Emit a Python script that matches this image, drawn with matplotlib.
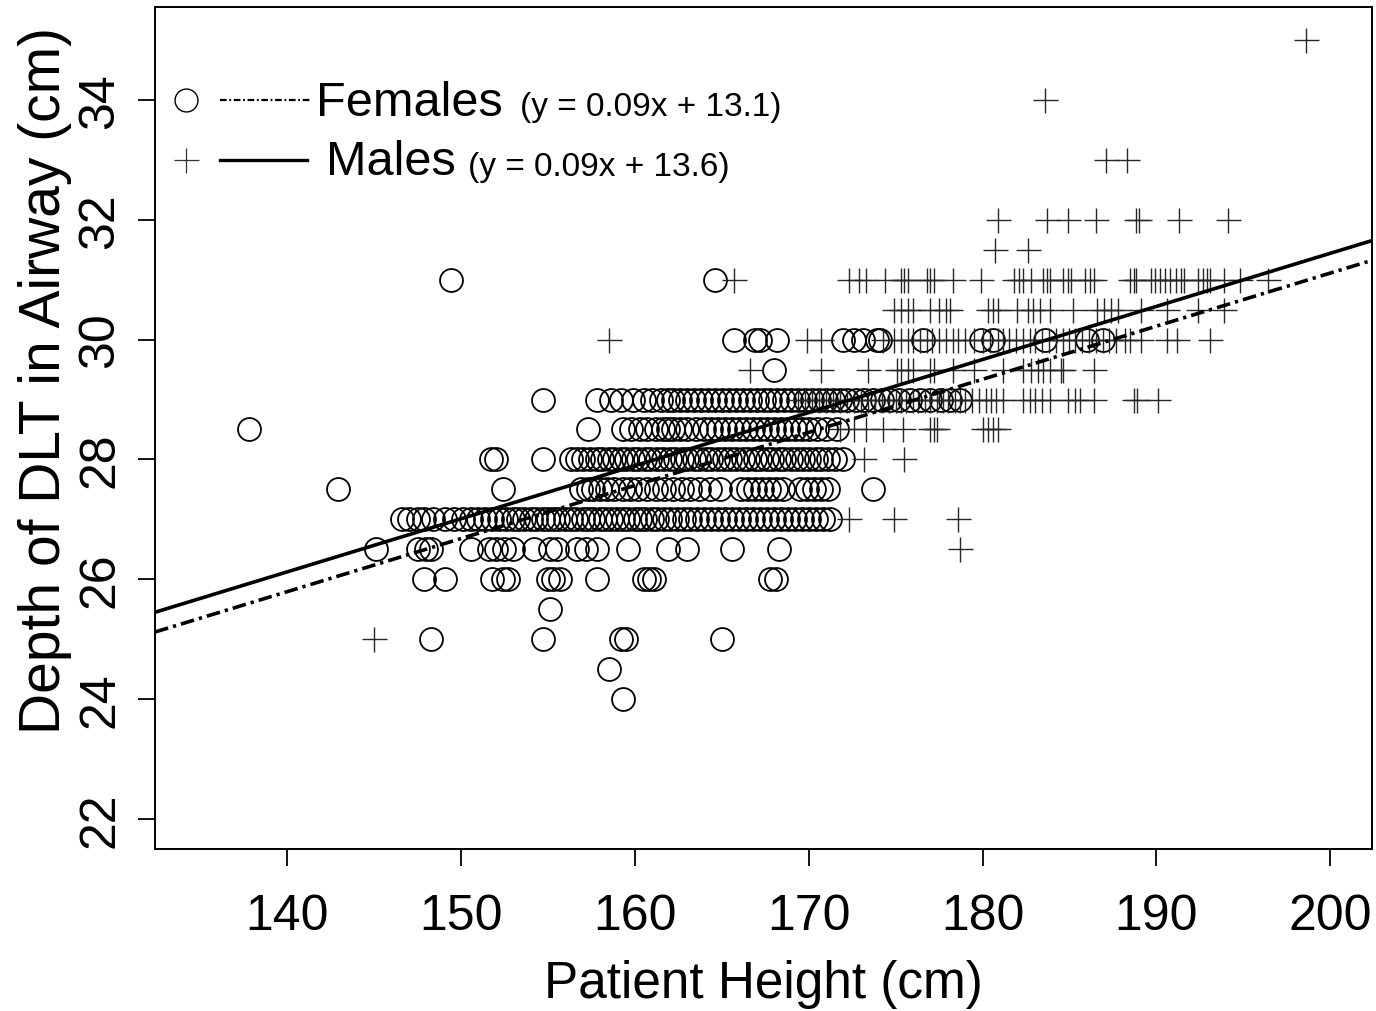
import numpy as np
import matplotlib
matplotlib.use("Agg")
import matplotlib.pyplot as plt
from matplotlib.lines import Line2D

plt.rcParams['font.family'] = ['Liberation Sans', 'DejaVu Sans']

# ---- females (circles), one list per depth level ----
f_levels = [24.0, 24.5, 25.0, 25.5, 26.0, 26.5, 27.0, 27.5, 28.0, 28.5, 29.0, 29.5, 30.0, 31.0]
f_240 = [159.3]
f_245 = [158.5]
f_250 = [148.3, 154.7, 159.2, 159.5, 165.0]
f_255 = [155.1]
f_260 = [147.9, 149.1, 151.8, 152.4, 152.7, 155.0, 155.3, 155.7, 157.8, 160.5, 160.8, 161.1, 167.8, 168.1]
f_265 = [145.1, 147.5, 148.0, 148.3, 150.6, 151.6, 152.0, 152.5, 153.0, 154.2, 155.1, 155.5, 156.7,
         157.2, 157.8, 159.6, 161.9, 163.0, 165.6, 168.3]
f_270 = [146.6, 147.0, 147.5, 147.9, 148.4, 149.1, 149.6, 150.1, 150.6, 151.0, 151.4, 151.8, 152.2,
         152.6, 153.0, 153.3, 153.6, 154.0, 154.3, 154.7, 155.0, 155.3, 155.6, 156.0, 156.3, 156.6,
         157.0, 157.3, 157.6, 158.0, 158.3, 158.6, 159.0, 159.3, 159.6, 160.0, 160.3, 160.6, 161.0,
         161.3, 161.7, 162.0, 162.4, 162.8, 163.2, 163.6, 164.0, 164.4, 164.8, 165.2, 165.6, 166.0,
         166.4, 166.8, 167.2, 167.6, 168.0, 168.4, 168.8, 169.2, 169.6, 170.0, 170.4, 170.8, 171.2]
f_275 = [142.9, 152.4, 156.9, 157.3, 157.6, 158.0, 158.4, 158.8, 159.3, 159.7, 160.2, 160.7, 161.2,
         161.7, 162.2, 162.7, 163.2, 163.7, 164.3, 164.9, 166.1, 166.5, 166.9, 167.3, 167.7, 168.1,
         168.5, 169.5, 169.9, 170.3, 170.7, 171.1, 173.7]
f_280 = [151.7, 152.0, 154.7, 156.3, 156.7, 157.0, 157.4, 157.8, 158.1, 158.5, 158.8, 159.2, 159.5,
         159.9, 160.2, 160.6, 160.9, 161.3, 161.6, 162.0, 162.3, 162.7, 163.0, 163.4, 163.7, 164.1,
         164.4, 164.8, 165.1, 165.5, 165.8, 166.2, 166.5, 166.9, 167.2, 167.6, 167.9, 168.3, 168.6,
         169.0, 169.3, 169.7, 170.0, 170.4, 170.7, 171.1, 171.5, 172.0]
f_285 = [137.8, 157.3, 159.3, 159.8, 160.3, 160.7, 161.2, 161.6, 161.9, 162.2, 162.6, 163.0, 163.5,
         164.0, 164.4, 164.8, 165.2, 165.6, 166.0, 166.4, 166.8, 167.2, 167.6, 168.0, 168.4, 168.8,
         169.2, 169.6, 170.0, 170.5, 171.0, 171.6]
f_290 = [154.7, 157.8, 158.6, 159.2, 159.9, 160.5, 161.0, 161.5, 161.9, 162.2, 162.6, 163.0, 163.4,
         163.8, 164.2, 164.6, 165.0, 165.4, 165.8, 166.2, 166.6, 167.0, 167.4, 167.8, 168.2, 168.6,
         169.0, 169.4, 169.8, 170.2, 170.6, 171.0, 171.4, 171.8, 172.2, 172.7, 173.2, 173.7, 174.2,
         174.7, 175.2, 175.8, 176.4, 177.0, 177.6, 178.1, 178.7]
f_295 = [168.0]
f_300 = [165.7, 166.9, 167.2, 168.2, 172.0, 172.6, 173.1, 173.9, 174.1, 176.6, 179.9, 180.6,
         183.6, 186.0, 186.9]
f_310 = [149.4, 164.6]
f_rows = [f_240, f_245, f_250, f_255, f_260, f_265, f_270, f_275, f_280, f_285, f_290, f_295, f_300, f_310]

# ---- males (crosses) ----
m_levels = [25.0, 26.5, 27.0, 28.0, 28.5, 29.0, 29.5, 30.0, 30.5, 31.0, 31.5, 32.0, 33.0, 34.0, 35.0]
m_250 = [145.0]
m_265 = [178.7]
m_270 = [172.3, 174.9, 178.6]
m_280 = [173.2, 175.5]
m_285 = [171.8, 172.6, 173.3, 174.3, 175.4, 177.0, 177.2, 177.4, 180.0, 180.3, 180.6, 180.9]
m_290 = [169.4, 169.8, 170.2, 170.6, 171.0, 171.4, 171.8, 172.2, 172.6, 173.0, 173.4, 173.8, 174.2,
         174.6, 175.0, 175.3, 175.6, 176.0, 176.3, 176.7, 177.0, 177.4, 177.7, 178.0, 178.4, 178.7,
         179.0, 179.4, 179.8, 180.2, 180.5, 180.8, 181.2, 182.3, 182.7, 183.0, 183.4, 183.9, 184.9,
         185.3, 185.6, 186.4, 188.7, 188.9, 190.1]
m_295 = [166.6, 170.7, 173.4, 175.1, 175.3, 175.7, 176.0, 177.0, 177.2, 178.3, 179.5, 181.2, 182.3,
         182.8, 183.2, 183.5, 183.9, 184.5, 184.6, 186.4]
m_300 = [158.5, 169.9, 170.7, 174.3, 174.9, 175.3, 175.7, 176.0, 176.4, 176.8, 177.1, 177.5, 177.9,
         178.3, 178.6, 179.0, 179.5, 180.0, 180.4, 180.9, 181.2, 181.5, 181.9, 182.3, 182.7, 183.0,
         183.4, 183.8, 184.2, 184.6, 185.0, 185.3, 185.7, 186.1, 186.5, 186.9, 187.3, 187.7, 188.2,
         188.5, 189.1, 190.6, 191.2, 193.1]
m_305 = [174.9, 175.3, 175.7, 176.0, 177.0, 177.5, 177.9, 178.1, 180.3, 180.6, 180.9, 182.0, 182.6,
         182.9, 183.3, 183.9, 185.2, 186.6, 187.0, 187.4, 187.8, 189.1, 190.6, 192.4, 193.9]
m_310 = [165.7, 172.3, 172.9, 173.3, 174.4, 175.3, 175.5, 175.7, 176.8, 177.0, 177.2, 178.3, 179.9,
         181.8, 182.1, 182.3, 182.8, 183.5, 183.7, 183.9, 184.6, 184.9, 185.1, 185.9, 186.2, 186.4,
         188.5, 188.7, 188.8, 189.7, 189.9, 190.2, 190.5, 190.8, 191.1, 191.4, 191.6, 192.4, 192.7,
         192.9, 193.1, 193.9, 194.8, 196.4]
m_315 = [180.7, 182.6]
m_320 = [180.9, 183.7, 184.9, 186.5, 188.8, 189.0, 191.3, 194.1]
m_330 = [187.1, 188.3]
m_340 = [183.6]
m_350 = [198.6]
m_rows = [m_250, m_265, m_270, m_280, m_285, m_290, m_295, m_300, m_305, m_310, m_315, m_320,
          m_330, m_340, m_350]

# regression lines as drawn (slope, intercept)
fem_fit = (0.0886, 13.39)
male_fit = (0.0886, 13.72)

x_ticks = [140, 150, 160, 170, 180, 190, 200]
y_ticks = [22, 24, 26, 28, 30, 32, 34]


def flatten(levels, rows):
    xs, ys = [], []
    for lev, row in zip(levels, rows):
        xs += row
        ys += [lev] * len(row)
    return np.array(xs), np.array(ys)


fx, fy = flatten(f_levels, f_rows)
mx, my = flatten(m_levels, m_rows)

fig = plt.figure(figsize=(13.76, 10.12), dpi=100)
ax = fig.add_axes([155 / 1376, 1 - 850 / 1012, 1217 / 1376, 842 / 1012])

ax.plot(fx, fy, linestyle='none', marker='o', ms=16.5, mfc='none', mec='black', mew=1.3)
ax.plot(mx, my, linestyle='none', marker='+', ms=18, mec='0.15', mew=1.0)

ax.axline((0, fem_fit[1]), slope=fem_fit[0], color='black', lw=2.6,
          dashes=(3.8, 1.4, 0.9, 1.4), zorder=5)
ax.axline((0, male_fit[1]), slope=male_fit[0], color='black', lw=2.6, zorder=5)

ax.set_xlim(132.4, 202.4)
ax.set_ylim(21.5, 35.55)
ax.set_xticks(x_ticks)
ax.set_yticks(y_ticks)
ax.tick_params(axis='both', direction='out', length=12, width=1.3, labelsize=36)
ax.tick_params(axis='x', pad=20)
ax.tick_params(axis='y', pad=11)
for lbl in ax.get_yticklabels():
    lbl.set_rotation(90)
    lbl.set_va('center')
for sp in ax.spines.values():
    sp.set_linewidth(1.4)

ax.set_xlabel("Patient Height (cm)", fontsize=37, va='center')
ax.set_ylabel("Depth of DLT in Airway (cm)", fontsize=41, va='center')
ax.xaxis.set_label_coords(0.5, -0.160)
ax.yaxis.set_label_coords(-0.090, 0.558)

# legend drawn by hand, R style
ax.plot([0.0255], [0.8895], transform=ax.transAxes, marker='o', ms=16.5, mfc='none', mec='black', mew=1.0)
ax.add_line(Line2D([0.0534, 0.129], [0.8895, 0.8895], transform=ax.transAxes, color='black',
                   lw=1.6, dashes=(3, 1.2, 0.8, 1.2)))
ax.text(0.1323, 0.887, "Females", transform=ax.transAxes, fontsize=35, va='center', ha='left')
ax.text(0.300, 0.882, "(y = 0.09x + 13.1)", transform=ax.transAxes, fontsize=24, va='center', ha='left')

ax.plot([0.0255], [0.8183], transform=ax.transAxes, marker='+', ms=18, mec='0.2', mew=0.9)
ax.add_line(Line2D([0.0534, 0.1249], [0.8183, 0.8183], transform=ax.transAxes, color='black', lw=2.4))
ax.text(0.1405, 0.816, "Males", transform=ax.transAxes, fontsize=35, va='center', ha='left')
ax.text(0.257, 0.810, "(y = 0.09x + 13.6)", transform=ax.transAxes, fontsize=24, va='center', ha='left')

fig.savefig("out.png", dpi=100)
